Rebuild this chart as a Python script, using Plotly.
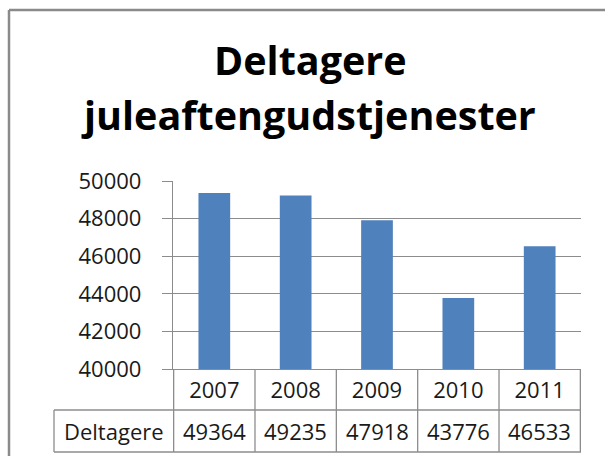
import plotly.graph_objects as go

# data
years = ["2007", "2008", "2009", "2010", "2011"]
deltagere = [49364, 49235, 47918, 43776, 46533]
series_name = "Deltagere"
title_lines = ["Deltagere", "juleaftengudstjenester"]
y_ticks = [40000, 42000, 44000, 46000, 48000, 50000]

W, H = 605, 456
# plot area in pixels
PX0, PX1, PY0, PY1 = 173, 581, 181, 369
GRID = "#8c8c8c"
BAR = "#4f81bd"
FONT = "Open Sans"
TXT = "#1a1a1a"


def px_x(px):
	return (px - PX0) / (PX1 - PX0)


def px_y(py):
	return (PY1 - py) / (PY1 - PY0)


fig = go.Figure()

fig.add_trace(
	go.Bar(
		x=years,
		y=deltagere,
		marker_color=BAR,
		marker_line_width=0,
		name=series_name,
		showlegend=False,
	)
)

shapes = []
row1 = px_y(410)
row2 = px_y(452)
left = px_x(54)

# data table grid
for i in range(len(years) + 1):
	shapes.append(dict(type="line", xref="x", yref="paper", x0=i - 0.5, x1=i - 0.5, y0=0, y1=row2, line=dict(color=GRID, width=1.3)))
for yy in (row1, row2):
	shapes.append(dict(type="line", xref="paper", yref="paper", x0=left, x1=1, y0=yy, y1=yy, line=dict(color=GRID, width=1.3)))
shapes.append(dict(type="line", xref="paper", yref="paper", x0=left, x1=left, y0=row1, y1=row2, line=dict(color=GRID, width=1.3)))

# chart border (runs off the picture at right and bottom)
shapes.append(dict(type="line", xref="paper", yref="paper", x0=px_x(9), x1=px_x(640), y0=px_y(10), y1=px_y(10), line=dict(color="#8a8a8a", width=2.5)))
shapes.append(dict(type="line", xref="paper", yref="paper", x0=px_x(9), x1=px_x(9), y0=px_y(10), y1=px_y(500), line=dict(color="#8a8a8a", width=2.5)))

annotations = []
val_y = px_y(431)
for i, v in enumerate(deltagere):
	annotations.append(dict(x=i, y=val_y, xref="x", yref="paper", xanchor="center", yanchor="middle",
		text=str(v), showarrow=False, font=dict(family=FONT, size=22, color=TXT)))
annotations.append(dict(x=px_x(113.5), y=val_y, xref="paper", yref="paper", xanchor="center", yanchor="middle",
	text=series_name, showarrow=False, font=dict(family=FONT, size=22, color=TXT)))

# title, one annotation per line
for line, cy, cx in zip(title_lines, (60, 115), (310, 308)):
	annotations.append(dict(x=px_x(cx), y=px_y(cy), xref="paper", yref="paper", xanchor="center", yanchor="middle",
		text=f"<b>{line}</b>", showarrow=False, font=dict(family=FONT, size=39.5, color="black")))

fig.update_layout(
	width=W,
	height=H,
	margin=dict(l=PX0, r=W - PX1, t=PY0, b=H - PY1, pad=0, autoexpand=False),
	paper_bgcolor="white",
	plot_bgcolor="white",
	bargap=0.61,
	xaxis=dict(
		type="category",
		showgrid=False,
		showline=True,
		linecolor=GRID,
		linewidth=1.3,
		ticks="",
		tickfont=dict(family=FONT, size=22, color=TXT),
		ticklabelstandoff=1,
		automargin=False,
		fixedrange=True,
	),
	yaxis=dict(
		range=[40000, 50000],
		tickvals=y_ticks,
		ticktext=[str(t) for t in y_ticks],
		showgrid=True,
		gridcolor=GRID,
		gridwidth=1.3,
		showline=True,
		linecolor=GRID,
		linewidth=1.3,
		ticks="outside",
		ticklen=10,
		tickcolor=GRID,
		tickwidth=1.3,
		ticklabelstandoff=16,
		zeroline=False,
		automargin=False,
		tickfont=dict(family=FONT, size=22, color=TXT),
	),
	shapes=shapes,
	annotations=annotations,
)

# page body has a default 8px margin; drop it so the figure fills the window
fig.write_html("out.html", config={"displayModeBar": False}, post_script="document.body.style.margin='0';")
